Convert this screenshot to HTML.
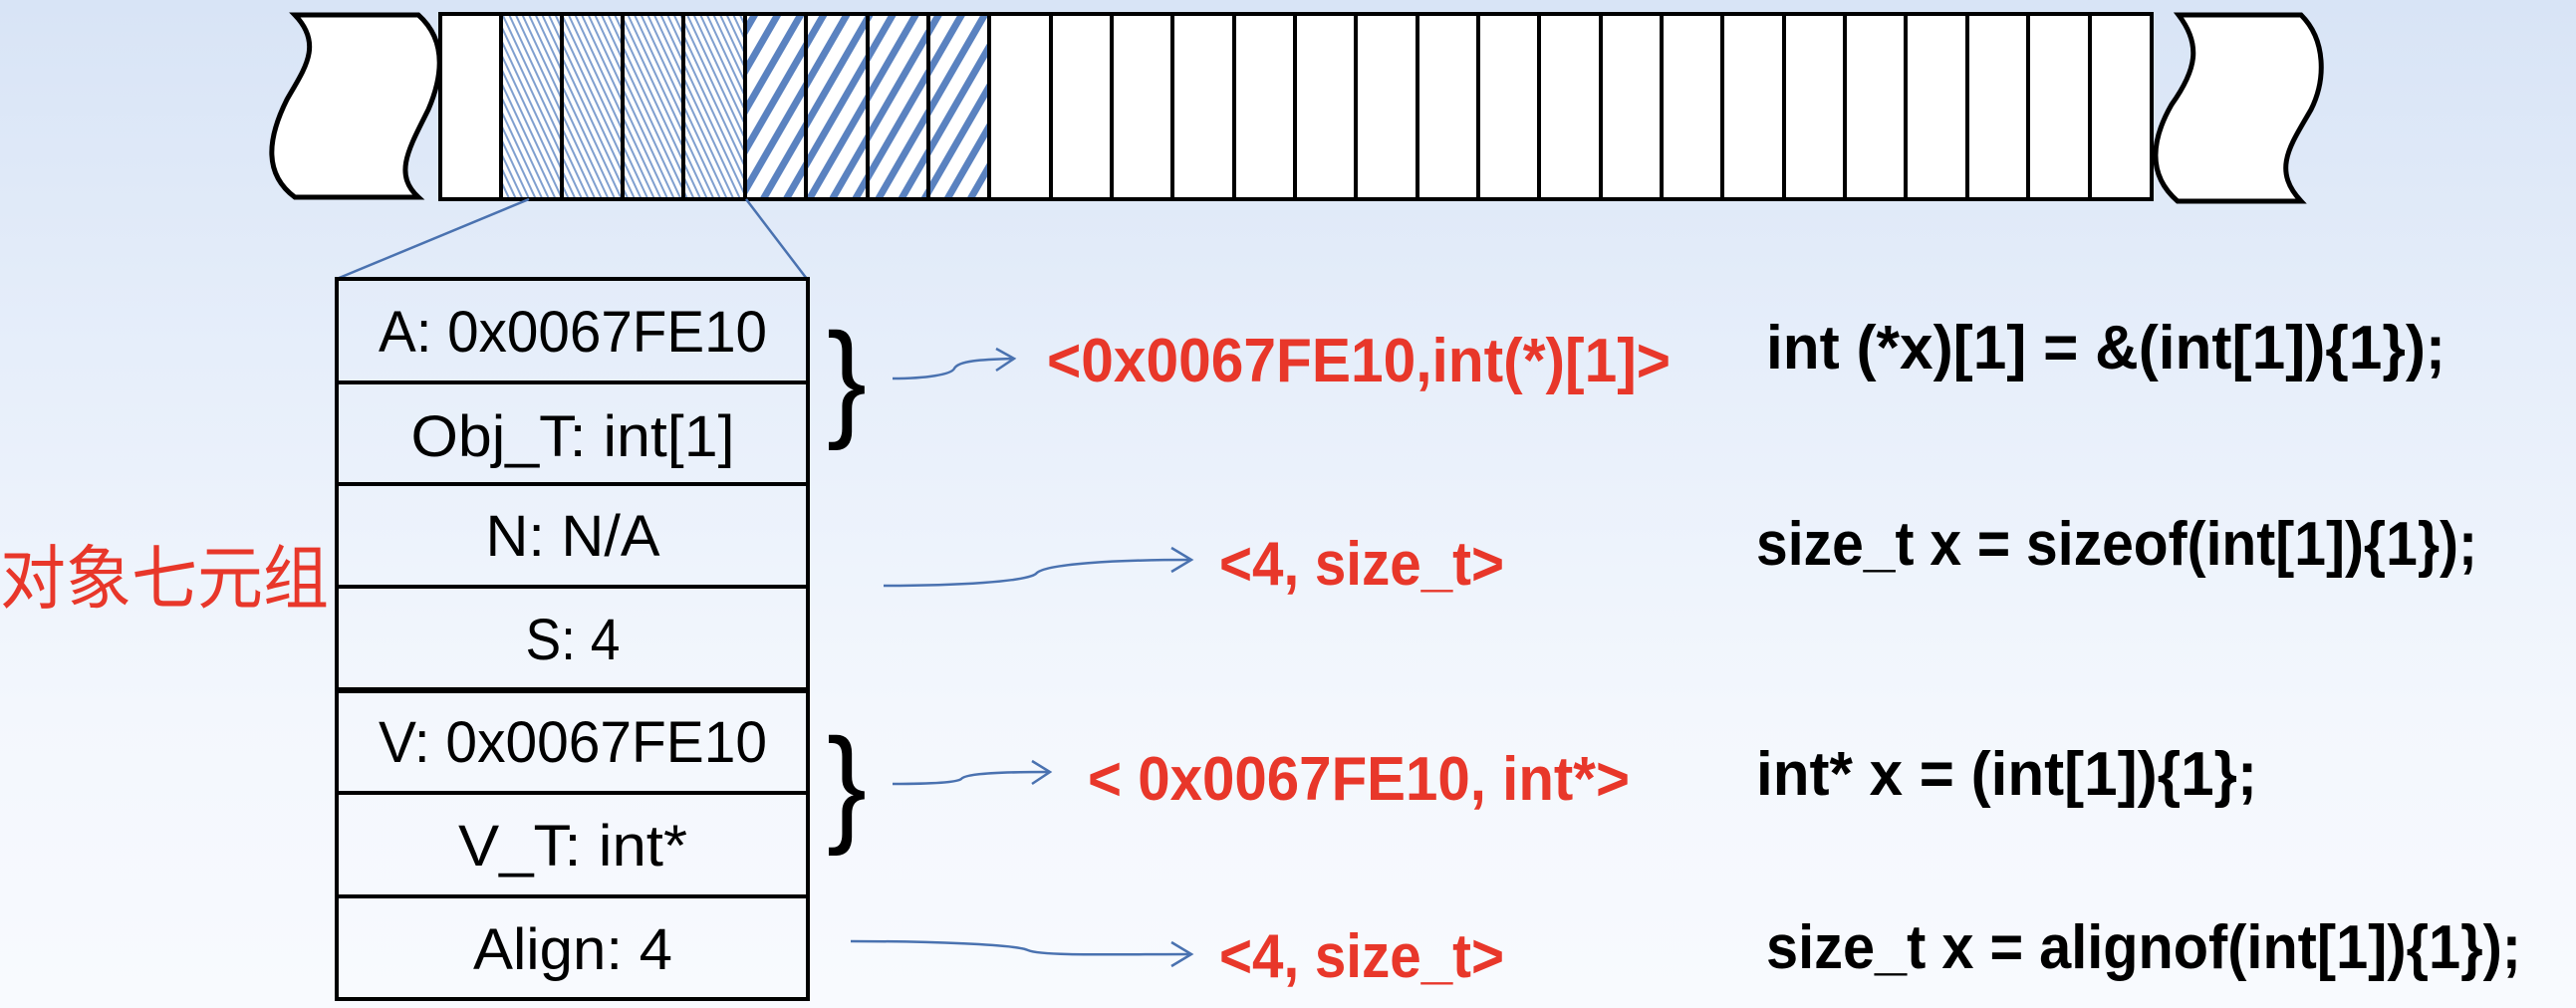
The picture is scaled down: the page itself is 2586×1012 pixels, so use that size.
<!DOCTYPE html>
<html><head><meta charset="utf-8"><style>
html,body{margin:0;padding:0;width:2586px;height:1012px;overflow:hidden;}
body{background:linear-gradient(180deg,#d8e4f6 0%,#e6eefa 35%,#f3f7fd 70%,#f8fafe 100%);}
svg{display:block;}
</style></head><body>
<svg width="2586" height="1012" viewBox="0 0 2586 1012" xmlns="http://www.w3.org/2000/svg">
<defs>
<pattern id="fine" width="6" height="6" patternUnits="userSpaceOnUse" patternTransform="rotate(-25)">
<rect width="6" height="6" fill="#fff"/><rect width="2" height="6" fill="#7f9fcf"/>
</pattern>
<pattern id="bold" width="20" height="20" patternUnits="userSpaceOnUse" patternTransform="rotate(30)">
<rect width="20" height="20" fill="#fff"/><rect width="7" height="20" fill="#5a82c0"/>
</pattern>
</defs>
<path d="M296,15 L420,15 C448,40 445,75 430,110 C410,150 395,175 420,198 L296,198 C265,175 268,140 288,100 C305,70 325,45 296,15 Z" fill="#fff" stroke="#000" stroke-width="5"/>
<path d="M2187,15 L2310,15 C2335,40 2335,80 2320,110 C2300,145 2280,170 2310,202 L2186,202 C2155,175 2160,140 2180,105 C2205,70 2210,45 2187,15 Z" fill="#fff" stroke="#000" stroke-width="5"/>
<rect x="442" y="14" width="1718" height="186" fill="#fff"/>
<rect x="503" y="14" width="245" height="186" fill="url(#fine)"/>
<rect x="748" y="14" width="245" height="186" fill="url(#bold)"/>
<g stroke="#000" stroke-width="4">
<rect x="442" y="14" width="1718" height="186" fill="none"/>
<path d="M503,14V200M564,14V200M625,14V200M686,14V200M748,14V200M809,14V200M871,14V200M932,14V200M993,14V200M1055,14V200M1116,14V200M1177,14V200M1239,14V200M1300,14V200M1361,14V200M1423,14V200M1484,14V200M1545,14V200M1607,14V200M1668,14V200M1729,14V200M1791,14V200M1852,14V200M1913,14V200M1975,14V200M2036,14V200M2098,14V200"/>
</g>
<line x1="531" y1="200" x2="338" y2="280" stroke="#4a72b0" stroke-width="2.5"/>
<line x1="749" y1="200" x2="810" y2="280" stroke="#4a72b0" stroke-width="2.5"/>
<g stroke="#000" stroke-width="4" fill="none">
<rect x="338" y="280" width="473" height="723"/>
<path d="M338,384H811M338,486H811M338,589H811M338,693H811M338,796H811M338,900H811"/>
<path d="M338,693H811" stroke-width="6"/>
</g>
<g font-family="Liberation Sans, sans-serif" font-size="58" fill="#000" text-anchor="middle">
<text x="575" y="353" textLength="390" lengthAdjust="spacingAndGlyphs">A: 0x0067FE10</text>
<text x="575" y="458" textLength="325" lengthAdjust="spacingAndGlyphs">Obj_T: int[1]</text>
<text x="575" y="558" textLength="175" lengthAdjust="spacingAndGlyphs">N: N/A</text>
<text x="575" y="662" textLength="95" lengthAdjust="spacingAndGlyphs">S: 4</text>
<text x="575" y="765" textLength="390" lengthAdjust="spacingAndGlyphs">V: 0x0067FE10</text>
<text x="575" y="869" textLength="230" lengthAdjust="spacingAndGlyphs">V_T: int*</text>
<text x="575" y="973" textLength="200" lengthAdjust="spacingAndGlyphs">Align: 4</text>
</g>
<text x="0" y="605" font-family="Liberation Sans, 'Noto Sans CJK SC', sans-serif" font-size="70" fill="#e8372a" textLength="330" lengthAdjust="spacingAndGlyphs">对象七元组</text>
<g font-family="Liberation Sans, sans-serif" font-size="130" fill="#000">
<text x="830" y="425" textLength="40" lengthAdjust="spacingAndGlyphs">}</text>
<text x="830" y="832" textLength="40" lengthAdjust="spacingAndGlyphs">}</text>
</g>
<g stroke="#4a72b0" stroke-width="2.5" fill="none">
<path d="M896,380 C930,380 955,376 958,370 C962,362 985,361 1018,360"/>
<path d="M1000,350 L1018,360 L1000,372"/>
<path d="M887,588 C960,588 1030,584 1040,576 C1048,566 1120,562 1196,562"/>
<path d="M1176,550 L1196,562 L1176,574"/>
<path d="M896,787 C930,787 960,786 965,782 C970,776 1010,775 1054,775"/>
<path d="M1036,764 L1054,775 L1036,787"/>
<path d="M854,945 C930,945 1020,948 1032,954 C1045,960 1120,958 1196,958"/>
<path d="M1176,946 L1196,958 L1176,970"/>
</g>
<g font-family="Liberation Sans, sans-serif" font-weight="bold" font-size="62" fill="#e8372a">
<text x="1051" y="383" textLength="626" lengthAdjust="spacingAndGlyphs">&lt;0x0067FE10,int(*)[1]&gt;</text>
<text x="1224" y="587" textLength="286" lengthAdjust="spacingAndGlyphs">&lt;4, size_t&gt;</text>
<text x="1092" y="803" textLength="544" lengthAdjust="spacingAndGlyphs">&lt; 0x0067FE10, int*&gt;</text>
<text x="1224" y="981" textLength="286" lengthAdjust="spacingAndGlyphs">&lt;4, size_t&gt;</text>
</g>
<g font-family="Liberation Sans, sans-serif" font-weight="bold" font-size="62" fill="#000">
<text x="1773" y="370" textLength="682" lengthAdjust="spacingAndGlyphs">int (*x)[1] = &amp;(int[1]){1});</text>
<text x="1763" y="567" textLength="724" lengthAdjust="spacingAndGlyphs">size_t x = sizeof(int[1]){1});</text>
<text x="1763" y="798" textLength="503" lengthAdjust="spacingAndGlyphs">int* x = (int[1]){1};</text>
<text x="1773" y="972" textLength="758" lengthAdjust="spacingAndGlyphs">size_t x = alignof(int[1]){1});</text>
</g>
</svg>
</body></html>
